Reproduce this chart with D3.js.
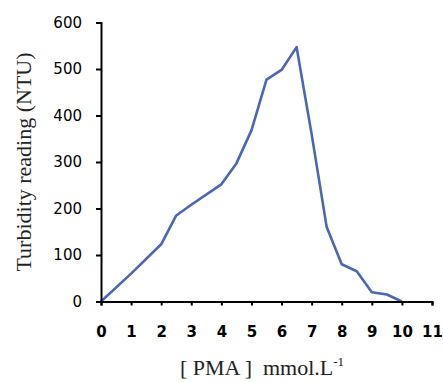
<!DOCTYPE html>
<html><head><meta charset="utf-8">
<script src="https://cdn.jsdelivr.net/npm/d3@7"></script>
<style>body{margin:0;background:#fff}</style>
</head><body>
<svg id="c" width="443" height="382"></svg>
<script>
const pma = [0, 1, 2, 2.5, 3, 4, 4.5, 5, 5.5, 6, 6.5, 7, 7.5, 8, 8.5, 9, 9.5, 10];
const turbidity = [0, 60, 123, 185, 208, 252, 297, 368, 477, 498, 547, 360, 160, 80, 65, 20, 15, 0];
const xTicks = [0,1,2,3,4,5,6,7,8,9,10,11];
const yTicks = [0,100,200,300,400,500,600];

const svg = d3.select("#c");
const x = d3.scaleLinear().domain([0, 11]).range([101, 432]);
const y = d3.scaleLinear().domain([0, 600]).range([301.5, 22.5]);

const line = d3.line().x((d,i)=>x(pma[i])).y(d=>y(d));
svg.append("path").datum(turbidity).attr("d", line)
  .attr("fill","none").attr("stroke","#4a66b5").attr("stroke-width",2.6).attr("stroke-linejoin","round");

const yAx = svg.append("g").attr("transform","translate(101,0)")
  .call(d3.axisLeft(y).tickValues(yTicks).tickSize(5).tickSizeOuter(5).tickPadding(14));
const xAx = svg.append("g").attr("transform","translate(0,301.5)")
  .call(d3.axisBottom(x).tickValues(xTicks).tickSize(4).tickSizeOuter(4).tickPadding(21));
[yAx,xAx].forEach(g=>{
  g.selectAll("path,line").attr("stroke","#000").attr("stroke-width",2);
  g.selectAll("text").attr("fill","#000").style("font-family","'DejaVu Sans',Verdana,sans-serif")
   .style("font-size","15px");
});
xAx.selectAll("text").style("font-weight","bold");
yAx.selectAll("text").style("font-weight","500");

svg.append("text").attr("transform","translate(31,162) rotate(-90)").attr("text-anchor","middle")
  .style("font-family","'Liberation Serif','Times New Roman',serif").style("font-size","22px").attr("fill","#222")
  .text("Turbidity reading (NTU)");
const xt = svg.append("text").attr("x",262).attr("y",375).attr("text-anchor","middle")
  .attr("xml:space","preserve")
  .style("font-family","'Liberation Serif','Times New Roman',serif").style("font-size","22px").attr("fill","#222");
xt.append("tspan").text("[ PMA ]  mmol.L");
xt.append("tspan").attr("dy",-9).style("font-size","13px").text("-1");
</script>
</body></html>
